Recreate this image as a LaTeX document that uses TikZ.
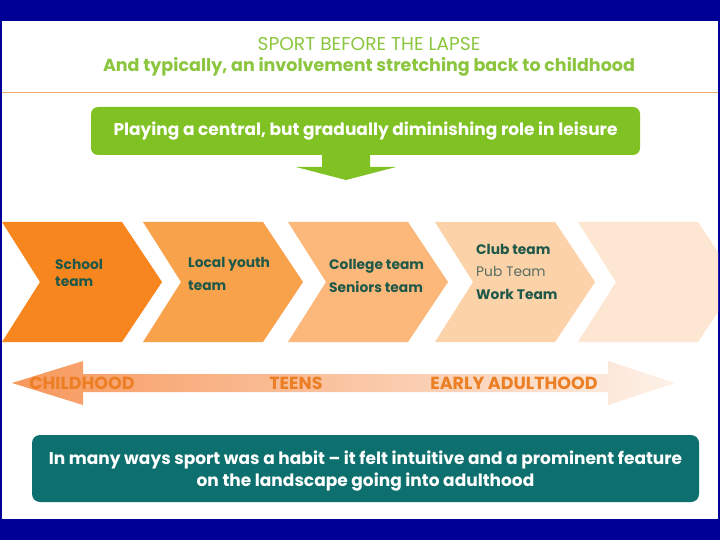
\documentclass[tikz,border=0pt]{standalone}
\usepackage{fontspec}
\setmainfont{Poppins}
\usetikzlibrary{arrows.meta,calc,positioning}

\definecolor{slideblue}{RGB}{0,0,150}
\definecolor{titlegreen}{RGB}{140,198,63}
\definecolor{leafgreen}{RGB}{128,194,36}
\definecolor{rulecol}{RGB}{238,170,110}
\definecolor{tealbox}{RGB}{14,112,110}
\definecolor{chevtext}{RGB}{30,88,72}
\definecolor{pubtext}{RGB}{90,110,100}
\definecolor{agelabel}{RGB}{236,126,36}
\definecolor{chevA}{RGB}{247,134,30}
\definecolor{chevB}{RGB}{249,162,76}
\definecolor{chevC}{RGB}{251,184,122}
\definecolor{chevD}{RGB}{252,210,168}
\definecolor{chevE}{RGB}{253,230,210}
\definecolor{ageL}{RGB}{247,152,92}
\definecolor{ageM}{RGB}{250,204,175}
\definecolor{ageR}{RGB}{253,241,232}

\tikzset{
  msgbox/.style={rounded corners=7pt,text=white,font=\bfseries\fontsize{17}{22}\selectfont,align=center,inner sep=0pt},
  stage/.style={anchor=west,align=left,text=chevtext,font=\bfseries\fontsize{13.8}{23}\selectfont,inner sep=0pt},
  age/.style={text=agelabel,font=\bfseries\fontsize{17.5}{18}\selectfont,inner sep=0pt}
}

\begin{document}
\begin{tikzpicture}[x=1pt,y=-1pt]
  \useasboundingbox (0,0) rectangle (720,540);
  \fill[slideblue] (0,0) rectangle (720,540);
  \fill[white] (2,21) rectangle (718,519);

  % heading
  \node[text=titlegreen,font=\fontsize{18.6}{20}\selectfont,inner sep=0pt] (title) at (369,44) {SPORT BEFORE THE LAPSE};
  \node[text=titlegreen,font=\bfseries\fontsize{17.5}{20}\selectfont,inner sep=0pt] (subtitle) at (369,67) {And typically, an involvement stretching back to childhood};
  \draw[rulecol,line width=1pt] (2,93) -- (718,93);

  % green box and arrow
  \fill[leafgreen,rounded corners=7pt] (91,107) rectangle (640,155);
  \node[text=white,font=\bfseries\fontsize{17}{22}\selectfont,inner sep=0pt] (play) at (365.5,131.5)
    {Playing a central, but gradually diminishing role in leisure};
  \fill[leafgreen] (322,155) -- (370,155) -- (370,167) -- (396,167) -- (346,180) -- (296,167) -- (322,167) -- cycle;

  % chevrons
  \begin{scope}
    \clip (2,21) rectangle (718,519);
    \foreach \L/\c in {2/chevA,143/chevB,288/chevC,435/chevD,578/chevE}
      \fill[\c] (\L,222) -- ++(120,0) -- ++(40,60) -- ++(-40,60) -- ++(-120,0) -- ++(38,-60) -- cycle;
  \end{scope}
  \node[stage,font=\bfseries\fontsize{13.8}{17}\selectfont] (school) at (55,272.5) {School\\team};
  \node[stage] (youth) at (188,273.5) {Local youth\\team};
  \node[stage] (college) at (329,275.5) {College team\\Seniors team};
  \node[stage,font=\bfseries\fontsize{13.8}{22.5}\selectfont] (club) at (476,271.5)
    {Club team\\{\mdseries\color{pubtext}Pub Team}\\Work Team};

  % age arrow
  \shade[left color=ageL,middle color=ageM,right color=ageR]
    (12,383) -- (83,361) -- (83,374) -- (608,374) -- (608,361) -- (675,383)
    -- (608,405) -- (608,392) -- (83,392) -- (83,405) -- cycle;
  \node[age] (child) at (82,383) {CHILDHOOD};
  \node[age] (teens) at (296,383) {TEENS};
  \node[age] (adult) at (514,383) {EARLY ADULTHOOD};

  % teal box
  \fill[tealbox,rounded corners=8pt] (32,435) rectangle (699,502);
  \node[msgbox] (habit) at (365.5,471.5)
    {In many ways sport was a habit -- it felt intuitive and a prominent feature\\on the landscape going into adulthood};
\end{tikzpicture}
\end{document}
